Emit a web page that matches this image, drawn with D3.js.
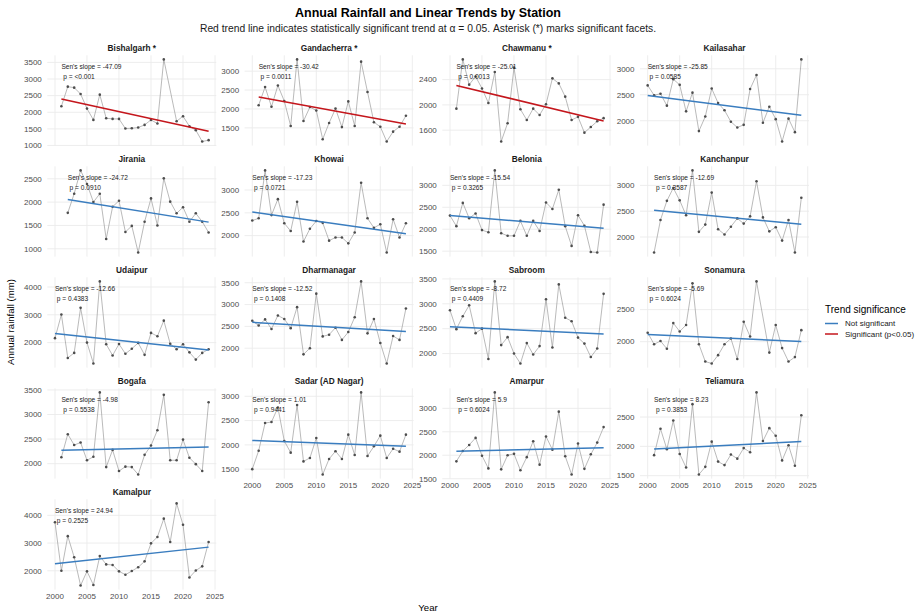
<!DOCTYPE html>
<html>
<head>
<meta charset="utf-8">
<script src="https://cdn.jsdelivr.net/npm/d3@7"></script>
<style>
body { margin: 0; background: #fff; }
text { font-family: "Liberation Sans", Arial, sans-serif; }
</style>
</head>
<body>
<svg width="917" height="614"></svg>
<script>
// station order as in the facets, row by row
var stations = ["Bishalgarh", "Gandacherra", "Chawmanu", "Kailasahar",
  "Jirania", "Khowai", "Belonia", "Kanchanpur",
  "Udaipur", "Dharmanagar", "Sabroom", "Sonamura",
  "Bogafa", "Sadar (AD Nagar)", "Amarpur", "Teliamura",
  "Kamalpur"];
var startYears = [2001, 2001, 2001, 2000, 2002, 2000, 2000, 2001, 2000, 2000, 2000, 2000, 2001, 2000, 2001, 2001, 2000];

// annual rainfall (mm), null = missing year
var bishalgarh = [2180, 2770, 2740, 2550, 2110, 1770, 2530, 1820, 1800, 1800, 1510, 1520, 1540, 1620, 1770, 1660, 3590, null, 1730, 1880, 1580, 1460, 1120, 1160];
var gandacherra = [2100, 2580, 2060, 2620, 2210, 1550, 3310, 1680, 2050, 1960, 1200, 1630, 2010, 1520, 2200, 1550, 3250, 2450, 1650, 1530, 1140, 1400, 1530, 1820];
var chawmanu = [1940, 2720, 2320, 2450, 2260, 2030, 2520, 1420, 1710, 2590, 1930, 1760, 1940, 1840, 2010, 2420, 2340, 2130, 1760, 1810, 1560, 1650, 1740, 1790];
var kailasahar = [2680, 2490, 2520, 2290, 2800, 2690, 2180, 2540, 1800, 2080, 2620, 2340, 2200, 1980, 1870, 1920, 2610, 2880, 1960, 2270, 2030, 1600, 2040, 1780, 3180];
var jirania = [1770, 2180, 2680, 2390, 2000, 2180, 1210, 1900, 2030, 1360, 1490, 920, 1580, 2080, 1500, 2510, 2010, 1760, 1890, 1580, 1760, 1580, 1350];
var khowai = [2330, 2380, 3430, 2450, 2800, 2270, 2100, 2740, 1870, 2150, 2320, 2280, 1890, 1960, 1960, 1830, 2070, 3160, 2380, 2170, 2250, 1630, 2360, 1960, 2270];
var belonia = [2310, 2070, 2600, 2250, 2360, 1980, 1930, 3340, 1910, 1850, 1850, 2190, 1850, 2190, 1960, 2610, 2460, 2900, 2070, 1620, 2320, 2080, 1480, 1470, 2560];
var kanchanpur = [1700, 2330, 2700, 2950, 2710, 2420, 3290, 2100, 2240, 2860, 2150, 2050, 2200, 2360, 2260, 2400, 3080, 2380, 2110, 2190, 1930, 2330, 1700, 2760];
var udaipur = [2160, 3010, 1450, 1630, 3250, 2000, 1250, 4200, 1940, 1540, 1950, 1600, 1780, 1990, 1560, 2350, 2230, 2790, 1960, 1760, 1940, 1650, 1390, 1630, 1760];
var dharmanagar = [2630, 2520, 2660, 2440, 2750, 2670, 2460, 2940, 1860, 2000, 3250, 2270, 2310, 2470, 2190, 2370, 2710, 3530, 2340, 2670, 2120, 1650, 2280, 2190, 2910];
var sabroom = [2870, 2490, 2750, 2970, 2410, 2500, 1890, 3450, 2170, 2330, 2000, 1800, 2210, 1980, 2150, 3090, 2120, 3390, 2720, 2650, 2320, 2200, 1930, 2100, 3200];
var sonamura = [2140, 1960, 2010, 1890, 2290, 2160, 2260, 2910, 1960, 1690, 1660, 1790, 1960, 2050, 1730, 2310, 2080, 2940, null, 1830, 2260, 1900, 1690, 1760, 2180];
var bogafa = [2130, 2600, 2380, 2430, 2070, 2140, 3450, 1930, 2280, 1850, 1940, 1930, 1780, 2180, 2370, 2680, 3400, 2070, 2070, 2490, 2120, 1990, 1850, 3250];
var sadar = [1500, 1880, 2450, 2470, 2770, 2080, 1840, 2820, 1660, 1730, 2140, 1390, 1710, 1870, 1710, 2210, 1790, 3080, 1770, 1970, 2190, 1730, 1920, 1860, 2210];
var amarpur = [1870, 2090, 2220, 2370, 1990, 1720, 3340, 1700, 2000, 2030, 1680, 1960, 2300, 1800, 2400, 2120, 2930, 1980, 1590, 2250, 1710, 2020, 2270, 2600];
var teliamura = [1850, 2300, 1950, 2440, 1870, 1640, 2720, 1520, 1650, 2080, 1740, 1680, 1860, 1790, 1970, 1900, 2920, 2090, 2310, 2180, 1760, 2020, 1670, 2530];
var kamalpur = [3750, 2000, 3250, 2490, 1470, 1980, 1490, 2530, 2230, 2210, 1980, 1860, 1990, 2130, 2340, 2990, 3220, 3880, 3040, 4430, 3660, 1760, 2010, 2160, 3040];

var rainfall = [bishalgarh, gandacherra, chawmanu, kailasahar, jirania, khowai, belonia, kanchanpur,
  udaipur, dharmanagar, sabroom, sonamura, bogafa, sadar, amarpur, teliamura, kamalpur];

var sensSlope = ["-47.09", "-30.42", "-25.01", "-25.85", "-24.72", "-17.23", "-15.54", "-12.69",
  "-12.66", "-12.52", "-8.72", "-5.69", "-4.98", "1.01", "5.9", "8.23", "24.94"];
var pValues = ["<0.001", "0.0011", "0.0013", "0.0585", "0.0910", "0.0721", "0.3265", "0.3587",
  "0.4383", "0.1408", "0.4409", "0.6024", "0.5538", "0.9441", "0.6024", "0.3853", "0.2525"];
var significant = [true, true, true, false, false, false, false, false,
  false, false, false, false, false, false, false, false, false];

var yTicks = [
  [1000, 1500, 2000, 2500, 3000, 3500], [1500, 2000, 2500, 3000], [1600, 2000, 2400], [2000, 2500, 3000],
  [1000, 1500, 2000, 2500], [2000, 2500, 3000], [1500, 2000, 2500, 3000], [2000, 2500, 3000],
  [2000, 3000, 4000], [2000, 2500, 3000, 3500], [2000, 2500, 3000, 3500], [2000, 2500],
  [2000, 2500, 3000, 3500], [1500, 2000, 2500, 3000], [1500, 2000, 2500, 3000], [1500, 2000, 2500],
  [2000, 3000, 4000]];
var xTicks = [2000, 2005, 2010, 2015, 2020, 2025];

var legendLabels = ["Not significant", "Significant (p<0.05)"];
var color = d3.scaleOrdinal().domain([false, true]).range(["#3a7dbf", "#c4161c"]);

var svg = d3.select("svg");
svg.append("rect").attr("width", 917).attr("height", 614).attr("fill", "#fff");

var panelW = 169, panelH = 90.3;
var colLeft = [47.3, 244.6, 442.3, 640];
var rowTop = [55.3, 166.3, 277.3, 388.3, 499.3];

var x = d3.scaleLinear().domain([1998.8, 2025.2]).range([0, panelW]);

function fitLine(pts) {
  var mx = d3.mean(pts, d => d.year), my = d3.mean(pts, d => d.value);
  var sxy = d3.sum(pts, d => (d.year - mx) * (d.value - my));
  var sxx = d3.sum(pts, d => (d.year - mx) * (d.year - mx));
  var b = sxy / sxx;
  return function(t) { return my + b * (t - mx); };
}

stations.forEach(function(name, i) {
  var pts = rainfall[i].map((v, k) => ({ year: startYears[i] + k, value: v }))
    .filter(d => d.value != null);
  var fit = fitLine(pts);
  var x0 = d3.min(pts, d => d.year), x1 = d3.max(pts, d => d.year);
  var ext = d3.extent(pts.map(d => d.value).concat([fit(x0), fit(x1)]));
  var pad = (ext[1] - ext[0]) * 0.05;
  var y = d3.scaleLinear().domain([ext[0] - pad, ext[1] + pad]).range([panelH, 0]);

  var g = svg.append("g")
    .attr("transform", "translate(" + colLeft[i % 4] + "," + rowTop[Math.floor(i / 4)] + ")");

  // grid
  g.selectAll(".gy").data(yTicks[i]).enter().append("line")
    .attr("x1", 0).attr("x2", panelW)
    .attr("y1", d => y(d)).attr("y2", d => y(d))
    .attr("stroke", "#ebebeb").attr("stroke-width", 0.9);
  g.selectAll(".gx").data(xTicks).enter().append("line")
    .attr("x1", d => x(d)).attr("x2", d => x(d))
    .attr("y1", 0).attr("y2", panelH)
    .attr("stroke", "#ebebeb").attr("stroke-width", 0.9);

  // y labels
  g.selectAll(".ty").data(yTicks[i]).enter().append("text")
    .attr("x", -5.5).attr("y", d => y(d)).attr("dy", "0.35em")
    .attr("text-anchor", "end").attr("font-size", 8).attr("fill", "#4d4d4d")
    .text(d => d);

  // x labels only where no panel sits below
  if (i + 4 >= stations.length) {
    g.selectAll(".tx").data(xTicks).enter().append("text")
      .attr("x", d => x(d)).attr("y", panelH + 9.8)
      .attr("text-anchor", "middle").attr("font-size", 8).attr("fill", "#4d4d4d")
      .text(d => d);
  }

  // strip
  g.append("text")
    .attr("x", panelW / 2).attr("y", -4.2)
    .attr("text-anchor", "middle").attr("font-size", 8.3).attr("font-weight", "bold")
    .attr("fill", "#1a1a1a")
    .text(name + (significant[i] ? " *" : ""));

  // series
  var line = d3.line().x(d => x(d.year)).y(d => y(d.value));
  g.append("path").datum(pts)
    .attr("d", line)
    .attr("fill", "none").attr("stroke", "#8c8c8c").attr("stroke-width", 0.6);
  g.selectAll(".pt").data(pts).enter().append("circle")
    .attr("cx", d => x(d.year)).attr("cy", d => y(d.value)).attr("r", 1.3)
    .attr("fill", "#4d4d4d");

  // trend
  g.append("line")
    .attr("x1", x(x0)).attr("y1", y(fit(x0)))
    .attr("x2", x(x1)).attr("y2", y(fit(x1)))
    .attr("stroke", color(significant[i])).attr("stroke-width", 1.5);

  // annotation
  var ymax = d3.max(pts, d => d.value);
  var ann = g.append("text").attr("font-size", 6.6).attr("fill", "#1a1a1a")
    .style("white-space", "pre");
  ann.append("tspan").attr("x", x(x0)).attr("y", y(ymax) + 9.3)
    .text("Sen's slope = " + sensSlope[i]);
  ann.append("tspan").attr("x", x(x0)).attr("y", y(ymax) + 20)
    .text(" p = " + pValues[i]);
});

// titles
svg.append("text").attr("x", 428).attr("y", 17)
  .attr("text-anchor", "middle").attr("font-size", 12.5).attr("font-weight", "bold")
  .attr("fill", "#000")
  .text("Annual Rainfall and Linear Trends by Station");
svg.append("text").attr("x", 428).attr("y", 31.5)
  .attr("text-anchor", "middle").attr("font-size", 10.3).attr("fill", "#1a1a1a")
  .text("Red trend line indicates statistically significant trend at \u03b1 = 0.05. Asterisk (*) marks significant facets.");
svg.append("text").attr("x", 428).attr("y", 611)
  .attr("text-anchor", "middle").attr("font-size", 9.6).attr("fill", "#000")
  .text("Year");
svg.append("text")
  .attr("transform", "translate(14,322) rotate(-90)")
  .attr("text-anchor", "middle").attr("font-size", 9.6).attr("fill", "#000")
  .text("Annual rainfall (mm)");

// legend
var lg = svg.append("g").attr("transform", "translate(825,0)");
lg.append("text").attr("x", 0).attr("y", 313)
  .attr("font-size", 10).attr("fill", "#000").text("Trend significance");
lg.selectAll(".key").data([false, true]).enter().append("line")
  .attr("x1", 0).attr("x2", 13)
  .attr("y1", (d, k) => 323.5 + k * 10.5).attr("y2", (d, k) => 323.5 + k * 10.5)
  .attr("stroke", d => color(d)).attr("stroke-width", 1.5);
lg.selectAll(".lab").data(legendLabels).enter().append("text")
  .attr("x", 20).attr("y", (d, k) => 323.5 + k * 10.5).attr("dy", "0.35em")
  .attr("font-size", 8).attr("fill", "#1a1a1a")
  .text(d => d);
</script>
</body>
</html>
